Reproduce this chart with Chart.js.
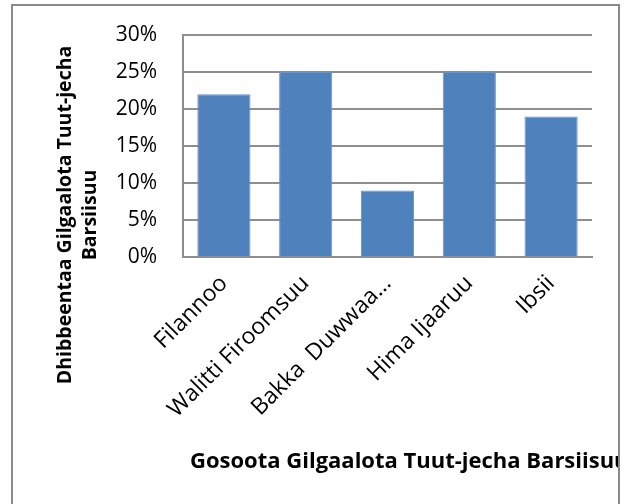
<!DOCTYPE html>
<html>
<head>
<meta charset="utf-8">
<script src="https://cdn.jsdelivr.net/npm/chart.js@4"></script>
<style>
  body { margin: 0; background: #fff; }
  #frame {
    position: absolute;
    left: 11px;
    top: 4px;
    width: 605px;
    height: 520px;
    border: 2px solid #8a8a8a;
    overflow: hidden;
  }
  #chart { display: block; }
</style>
</head>
<body>
<div id="frame">
  <canvas id="chart" width="605" height="498"></canvas>
</div>
<script>
const categories = ["Filannoo", "Walitti Firoomsuu", "Bakka  Duwwaa…", "Hima Ijaaruu", "Ibsii"];
const percentValues = [22, 25, 9, 25, 19];
const yTicks = [0, 5, 10, 15, 20, 25, 30];

const yTitleLines = ["Dhibbeentaa Gilgaalota Tuut-jecha", "Barsiisuu"];
const xTitle = "Gosoota Gilgaalota Tuut-jecha Barsiisuu";

const gridColor = "#8e8e8e";

// axis titles sit where Excel put them, not centred on the plot
const axisTitles = {
  id: "axisTitles",
  afterDraw(chart) {
    const ctx = chart.ctx;
    ctx.save();
    ctx.fillStyle = "#000";
    ctx.font = "bold 19.5px 'Open Sans'";
    ctx.textAlign = "center";
    ctx.textBaseline = "alphabetic";
    const baselines = [58, 83];
    yTitleLines.forEach((line, i) => {
      ctx.save();
      ctx.translate(baselines[i], 209);
      ctx.rotate(-Math.PI / 2);
      ctx.fillText(line, 0, 0);
      ctx.restore();
    });
    ctx.font = "bold 22px 'Open Sans'";
    ctx.textAlign = "left";
    ctx.fillText(xTitle, 177, 462);
    ctx.restore();
  },
};

new Chart(document.getElementById("chart"), {
  type: "bar",
  data: {
    labels: categories,
    datasets: [
      {
        data: percentValues,
        backgroundColor: "#4f81bd",
        borderColor: "#6a93c7",
        borderWidth: 1,
        categoryPercentage: 1,
        barPercentage: 0.65,
      },
    ],
  },
  options: {
    responsive: false,
    animation: false,
    layout: { padding: { top: 29, right: 26, left: 0, bottom: 0 } },
    plugins: {
      legend: { display: false },
      tooltip: { enabled: false },
    },
    scales: {
      x: {
        grid: { display: false, drawTicks: false },
        border: { display: true, color: gridColor, width: 2 },
        ticks: {
          color: "#000",
          font: { family: "Open Sans", size: 23 },
          minRotation: 45,
          maxRotation: 45,
          autoSkip: false,
          padding: 13,
        },
        afterFit(scale) {
          scale.height = 247;
        },
      },
      y: {
        min: 0,
        max: 30,
        // invisible tick marks give the label gap without padding the top
        grid: {
          color: gridColor,
          lineWidth: 2,
          drawTicks: true,
          tickLength: 23,
          tickColor: "rgba(0,0,0,0)",
        },
        border: { display: true, color: gridColor, width: 2 },
        afterBuildTicks(scale) {
          scale.ticks = yTicks.map((v) => ({ value: v }));
        },
        ticks: {
          color: "#000",
          font: { family: "Open Sans", size: 21 },
          padding: 3,
          callback: (v) => v + "%",
        },
        afterFit(scale) {
          scale.width = 170;
        },
      },
    },
  },
  plugins: [axisTitles],
});
</script>
</body>
</html>
